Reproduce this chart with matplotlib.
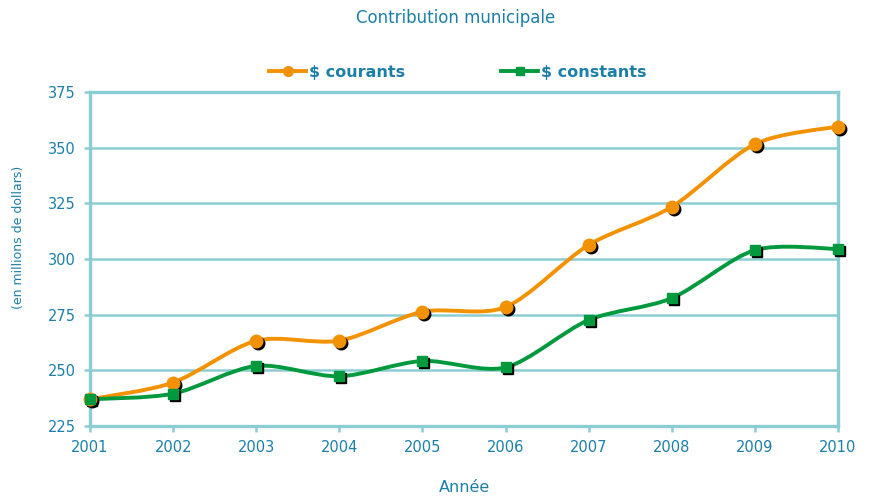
import matplotlib
matplotlib.use("Agg")
import matplotlib.pyplot as plt
from matplotlib.path import Path
from matplotlib.patches import PathPatch
from matplotlib.lines import Line2D
import matplotlib.transforms as mtransforms
import numpy as np

years = [2001, 2002, 2003, 2004, 2005, 2006, 2007, 2008, 2009, 2010]
courants = [237.0, 244.5, 263.3, 263.3, 276.3, 278.4, 306.3, 323.4, 351.6, 359.5]
constants = [237.0, 239.5, 252.0, 247.3, 254.2, 251.3, 272.6, 282.4, 304.0, 304.5]

orange = "#F39200"
green = "#00993D"
frame = "#8CCDD3"
txt = "#1C7FA8"


def smooth_path(xs, ys, k=7.0):
    # cubic bezier through every point, like the spreadsheet "smoothed line" option
    pts = np.column_stack([xs, ys]).astype(float)
    n = len(pts)
    verts = [pts[0]]
    codes = [Path.MOVETO]
    for i in range(n - 1):
        p0 = pts[i - 1] if i > 0 else pts[i]
        p1 = pts[i]
        p2 = pts[i + 1]
        p3 = pts[i + 2] if i + 2 < n else pts[i + 1]
        c1 = p1 + (p2 - p0) / k
        c2 = p2 - (p3 - p1) / k
        verts += [c1, c2, p2]
        codes += [Path.CURVE4] * 3
    return Path(verts, codes)


fig = plt.figure(figsize=(8.69, 4.97), dpi=100)
ax = fig.add_axes([0.1036, 0.1429, 0.8607, 0.672])

ax.set_xlim(2001, 2010)
ax.set_ylim(225, 375)
ax.set_xticks(years)
ax.set_yticks(np.arange(225, 376, 25))

ax.grid(axis="y", color=frame, linewidth=1.8, zorder=0)
for s in ax.spines.values():
    s.set_color(frame)
    s.set_linewidth(2.4)
ax.tick_params(colors=frame, width=1.8, length=4, labelcolor=txt, labelsize=10.5, pad=6)

shadow = mtransforms.offset_copy(ax.transData, fig=fig, x=2, y=-2, units="dots")

series = [(courants, orange, "o", 9, "$ courants"),
          (constants, green, "s", 7.5, "$ constants")]
for vals, col, mk, ms, lab in series:
    ax.add_patch(PathPatch(smooth_path(years, vals), facecolor="none", edgecolor=col,
                           linewidth=2.8, capstyle="round", zorder=3, clip_on=False))
    ax.plot(years, vals, linestyle="none", marker=mk, markersize=ms, color="black",
            transform=shadow, zorder=4, clip_on=False)
    ax.plot(years, vals, linestyle="none", marker=mk, markersize=ms, color=col,
            zorder=5, clip_on=False)

handles = [Line2D([], [], color=orange, marker="o", markersize=7, linewidth=2.8),
           Line2D([], [], color=green, marker="s", markersize=6, linewidth=2.8)]
leg = fig.legend(handles, ["$ courants", "$ constants"], loc="center", ncol=2,
                 bbox_to_anchor=(0.527, 0.855), frameon=False, handlelength=2.3,
                 handletextpad=0.2, columnspacing=6.0,
                 prop={"size": 11.5, "weight": "bold"})
for t in leg.get_texts():
    t.set_color(txt)

fig.text(0.524, 0.963, "Contribution municipale", ha="center", va="center",
         color=txt, fontsize=12)
fig.text(0.021, 0.523, "(en millions de dollars)", ha="center", va="center",
         rotation=90, color=txt, fontsize=9)
fig.text(0.535, 0.02, "Année", ha="center", va="center", color=txt, fontsize=11.5)

fig.savefig("out.png", dpi=100)
